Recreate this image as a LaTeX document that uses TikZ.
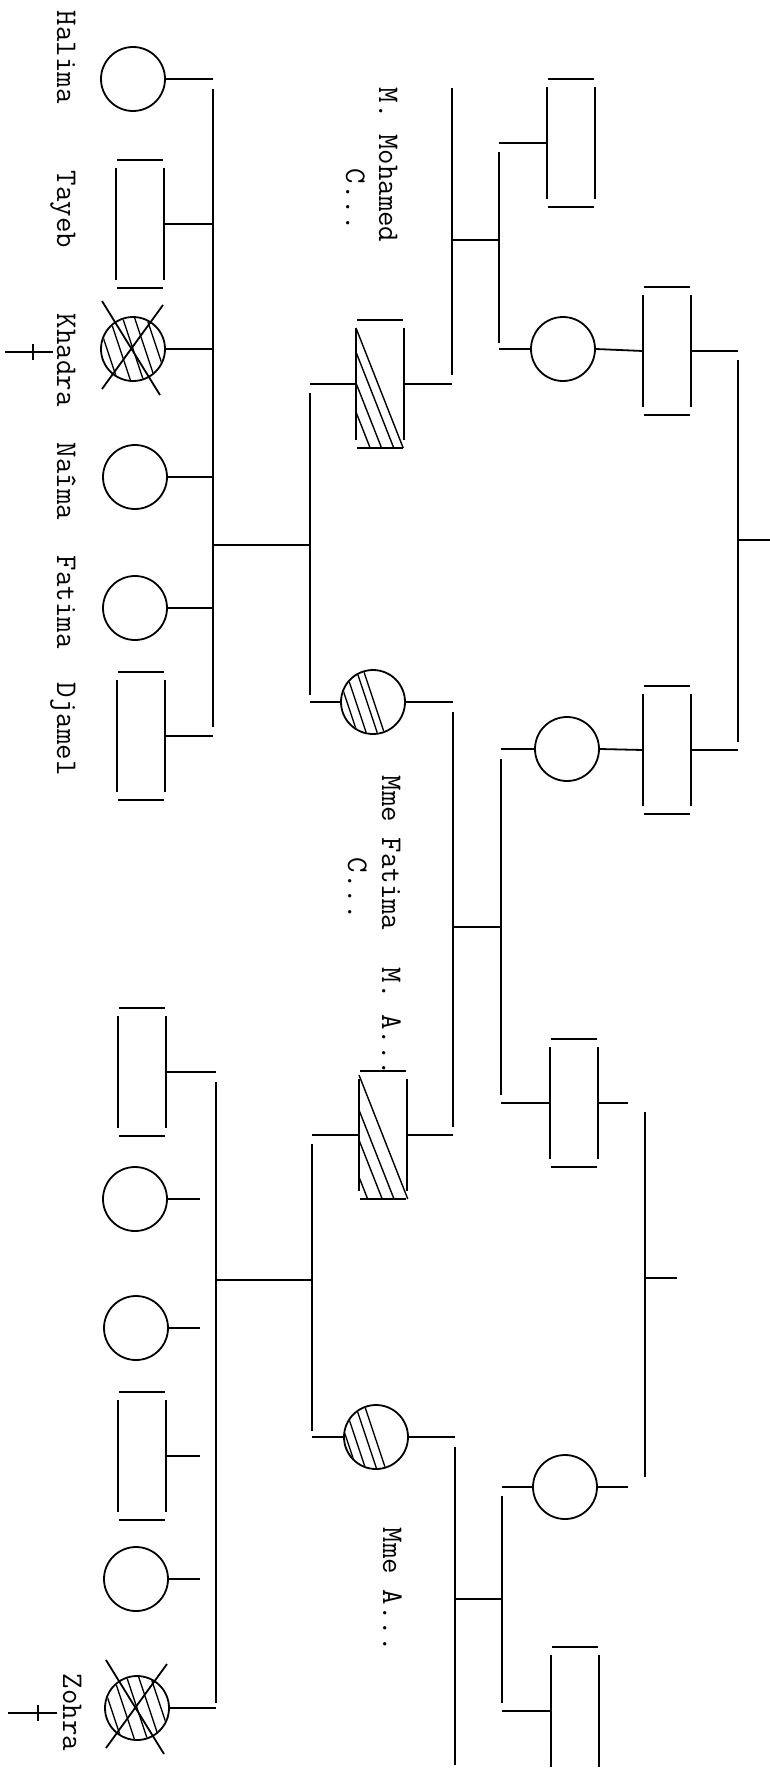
\documentclass[tikz,border=0pt]{standalone}
\usepackage{fontspec}
\usepackage{tikz}
\frenchspacing
\newcommand{\typewriter}{\fontsize{30}{32}\selectfont\ttfamily\addfontfeatures{FakeBold=0.9}}
% obdelnik muze: ctyri oddelene strany
\newcommand{\malebox}[1]{%
  \draw ([xshift=1pt]#1.north west) -- ([xshift=-1pt]#1.north east)
    ([yshift=-8pt]#1.north west) -- ([yshift=8pt]#1.south west)
    ([yshift=-8pt]#1.north east) -- ([yshift=8pt]#1.south east)
    ([xshift=1pt]#1.south west) -- ([xshift=-1pt]#1.south east);}
\newcommand{\hatchbox}[2]{%
  \begin{scope}[shift={(#1.north west)}]
    \foreach \t in {#2} \draw[hatch] (0,\t) -- ({48*(128-\t)/122},128);
  \end{scope}}
\newcommand{\hatchdisc}[2]{%
  \begin{scope}[shift={(#1.center)}]
    \clip (0,0) circle (31);
    \foreach \o in {#2} \draw[hatch] ({\o-14},-42) -- ({\o+14},42);
  \end{scope}}
\newcommand{\crossout}[1]{%
  \draw[shift={(#1.center)}] (-31,-48) -- (27,46) (30,-44) -- (-31,40);}

\begin{document}
\begin{tikzpicture}[x=1pt, y=-1pt, line width=1.8pt,
  fem/.style={circle, draw, minimum size=64pt, inner sep=0pt},
  mal/.style={rectangle, minimum width=48pt, minimum height=128pt, inner sep=0pt, outer sep=0pt},
  hatch/.style={line width=1.4pt},
  nametag/.style={rotate=-90, anchor=base west, inner sep=0pt, font=\typewriter}]
  \useasboundingbox (0,0) rectangle (770,1774);

  % Deti - horni rodina
  \node[fem] (halima) at (133,79) {};
  \node[mal] (tayeb) at (140,224) {};
  \node[fem] (khadra) at (133,349) {};
  \node[fem] (naima) at (135,477) {};
  \node[fem] (fatima) at (135,608) {};
  \node[mal] (djamel) at (141,736) {};
  % Deti - dolni rodina
  \node[mal] (b1) at (142,1072) {};
  \node[fem] (b2) at (135,1199) {};
  \node[fem] (b3) at (136,1328) {};
  \node[mal] (b4) at (142,1456) {};
  \node[fem] (b5) at (136,1579) {};
  \node[fem] (zohra) at (137,1708) {};
  % Rodice
  \node[mal] (mohamed) at (380,384) {};
  \node[fem] (mmefatima) at (373,702) {};
  \node[mal] (ma) at (383,1135) {};
  \node[fem] (mmea) at (376,1437) {};
  % Prarodice
  \node[mal] (gpA) at (571,143) {};
  \node[fem] (gmA) at (563,349) {};
  \node[fem] (gmB) at (567,749) {};
  \node[mal] (gpB) at (574,1103) {};
  \node[fem] (gmC) at (565,1487) {};
  \node[mal] (gpC) at (575,1711) {};
  \node[mal] (ggA) at (667,351) {};
  \node[mal] (ggB) at (667,750) {};

  \foreach \n in {tayeb,djamel,b1,b4,mohamed,ma,gpA,gpB,gpC,ggA,ggB} \malebox{\n};
  \hatchbox{mohamed}{8,32,63,92}
  \hatchbox{ma}{4,39,69,106}
  \hatchdisc{mmefatima}{-26,-17,-6,1}
  \hatchdisc{mmea}{-30,-21,-10,-1}
  \hatchdisc{khadra}{-26,-13,0,12,24}
  \hatchdisc{zohra}{-26,-13,0,12,24}
  \crossout{khadra}
  \crossout{zohra}
  \draw (5,352) -- (53,352) (33,344) -- (33,360);
  \draw (8,1713) -- (57,1713) (38,1705) -- (38,1721);

  % Body car
  \coordinate (sibAt) at (213,89);  \coordinate (sibAb) at (213,727);
  \coordinate (descA) at (310,545);
  \coordinate (cplAt) at (310,393); \coordinate (cplAb) at (310,695);
  \coordinate (sibMt) at (452,88);  \coordinate (sibMb) at (452,375);
  \coordinate (descM) at (499,240);
  \coordinate (cplMt) at (499,152); \coordinate (cplMb) at (499,343);
  \coordinate (sibGt) at (738,360); \coordinate (sibGb) at (738,742);
  \coordinate (edge) at (770,540);
  \coordinate (sibFt) at (453,712); \coordinate (sibFb) at (453,1127);
  \coordinate (descF) at (501,927);
  \coordinate (cplFt) at (501,759); \coordinate (cplFb) at (501,1095);
  \coordinate (stubR) at (628,0);
  \coordinate (sibRt) at (645,1112); \coordinate (sibRb) at (645,1477);
  \coordinate (stubRR) at (677,1278);
  \coordinate (sibBt) at (216,1082); \coordinate (sibBb) at (216,1703);
  \coordinate (stubB) at (200,0);
  \coordinate (descB) at (312,1280);
  \coordinate (cplBt) at (312,1144); \coordinate (cplBb) at (312,1431);
  \coordinate (sibCt) at (455,1447); \coordinate (sibCb) at (455,1765);
  \coordinate (descC) at (502,1599);
  \coordinate (cplCt) at (502,1496); \coordinate (cplCb) at (502,1703);

  % Spojnice
  \draw (sibAt) -- (sibAb);
  \foreach \n in {halima,tayeb,khadra,naima,fatima,djamel} \draw (\n.east) -- (\n.east -| sibAt);
  \draw (descA -| sibAt) -- (descA);
  \draw (cplAt) -- (cplAb);
  \foreach \n in {mohamed,mmefatima} \draw (\n.west) -- (\n.west -| cplAt);

  \draw (sibMt) -- (sibMb);
  \draw (mohamed.east) -- (mohamed.east -| sibMt);
  \draw (descM -| sibMt) -- (descM);
  \draw (cplMt) -- (cplMb);
  \foreach \n in {gpA,gmA} \draw (\n.west) -- (\n.west -| cplMt);
  \draw (gmA.east) -- (ggA.west);
  \draw (gmB.east) -- (ggB.west);
  \draw (sibGt) -- (sibGb);
  \foreach \n in {ggA,ggB} \draw (\n.east) -- (\n.east -| sibGt);
  \draw (edge -| sibGt) -- (edge);

  \draw (sibFt) -- (sibFb);
  \foreach \n in {mmefatima,ma} \draw (\n.east) -- (\n.east -| sibFt);
  \draw (descF -| sibFt) -- (descF);
  \draw (cplFt) -- (cplFb);
  \foreach \n in {gmB,gpB} \draw (\n.west) -- (\n.west -| cplFt);
  \foreach \n in {gpB,gmC} \draw (\n.east) -- (\n.east -| stubR);
  \draw (sibRt) -- (sibRb);
  \draw (stubRR -| sibRt) -- (stubRR);

  \draw (sibBt) -- (sibBb);
  \foreach \n in {b1,zohra} \draw (\n.east) -- (\n.east -| sibBt);
  \foreach \n in {b2,b3,b4,b5} \draw (\n.east) -- (\n.east -| stubB);
  \draw (descB -| sibBt) -- (descB);
  \draw (cplBt) -- (cplBb);
  \foreach \n in {ma,mmea} \draw (\n.west) -- (\n.west -| cplBt);

  \draw (sibCt) -- (sibCb);
  \draw (mmea.east) -- (mmea.east -| sibCt);
  \draw (descC -| sibCt) -- (descC);
  \draw (cplCt) -- (cplCb);
  \foreach \n in {gmC,gpC} \draw (\n.west) -- (\n.west -| cplCt);

  % Popisky
  \node[nametag] (tHalima) at (57,10) {Halima};
  \node[nametag] (tTayeb) at (57,170) {Tayeb};
  \node[nametag] (tKhadra) at (57,313) {Khadra};
  \node[nametag] (tNaima) at (57,442) {Naîma};
  \node[nametag] (tFatima) at (57,555) {Fatima};
  \node[nametag] (tDjamel) at (57,682) {Djamel};
  \node[nametag] (tZohra) at (63,1673) {Zohra};
  \node[nametag] (tMohamed) at (379,87) {M. Mohamed};
  \node[nametag] (tMohamedC) at (346,168) {C...};
  \node[nametag] (tMmeFatima) at (382,775) {Mme Fatima};
  \node[nametag] (tMmeFatimaC) at (348,857) {C...};
  \node[nametag] (tMA) at (382,967) {M. A...};
  \node[nametag] (tMmeA) at (383,1527) {Mme A...};
\end{tikzpicture}
\end{document}
